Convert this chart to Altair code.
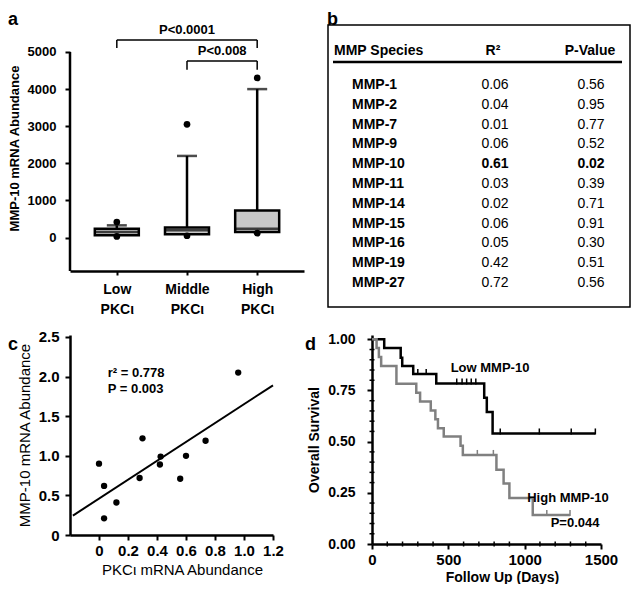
import altair as alt
import pandas as pd

FONT = "Liberation Sans"
GREY = "#808080"
BOX_FILL = "#c8c8c8"

# ---------------- Panel a : box plots ----------------
a_groups = ["Low", "Middle", "High"]
a_q1 = [60, 90, 150]
a_median = [150, 200, 235]
a_q3 = [240, 270, 730]
a_whisker_hi = [330, 2200, 4000]
a_whisker_lo = [30, 50, 120]
a_outlier = [420, 3050, 4300]
a_ticks = [0, 1000, 2000, 3000, 4000, 5000]
a_axis_span = [-900, 5000]
a_bracket_from = ["Low", "Middle"]
a_bracket_to = ["High", "High"]
a_bracket_top = [5320, 4760]
a_bracket_foot = [5110, 4520]
a_bracket_text = ["P<0.0001", "P<0.008"]
a_bracket_text_x = ["Middle", "High"]
a_bracket_text_y = [5590, 5030]

# ---------------- Panel b : table ----------------
b_species = ["MMP-1", "MMP-2", "MMP-7", "MMP-9", "MMP-10", "MMP-11",
             "MMP-14", "MMP-15", "MMP-16", "MMP-19", "MMP-27"]
b_r2 = [0.06, 0.04, 0.01, 0.06, 0.61, 0.03, 0.02, 0.06, 0.05, 0.42, 0.72]
b_pval = [0.56, 0.95, 0.77, 0.52, 0.02, 0.39, 0.71, 0.91, 0.30, 0.51, 0.56]
b_header = ["MMP Species", "R²", "P-Value"]
b_bold = "MMP-10"

# ---------------- Panel c : scatter ----------------
c_pkc = [0.00, 0.035, 0.035, 0.12, 0.28, 0.30, 0.42, 0.425, 0.56, 0.60, 0.735, 0.96]
c_mmp = [0.90, 0.62, 0.21, 0.41, 0.72, 1.22, 0.89, 0.99, 0.71, 1.00, 1.19, 2.05]
c_fit_x = [-0.18, 1.2]
c_fit_y = [0.245, 1.89]
c_xticks = [0, 0.2, 0.4, 0.6, 0.8, 1.0, 1.2]
c_yticks = [0, 0.5, 1.0, 1.5, 2.0, 2.5]

# ---------------- Panel d : Kaplan-Meier ----------------
low_days = [0, 80, 188, 198, 270, 421, 735, 752, 790, 1463]
low_surv = [1.0, 0.957, 0.91, 0.87, 0.83, 0.784, 0.714, 0.645, 0.54, 0.54]
low_censor = [300, 355, 555, 590, 620, 650, 680, 840, 1096, 1305, 1463]
high_days = [0, 30, 45, 60, 160, 290, 315, 385, 415, 432, 470, 580, 595,
             815, 862, 900, 1053, 1297]
high_surv = [1.0, 0.957, 0.913, 0.870, 0.783, 0.739, 0.696, 0.652, 0.609,
             0.565, 0.525, 0.48, 0.435, 0.363, 0.295, 0.225, 0.142, 0.142]
high_censor = [690, 795, 1145, 1297]
d_xticks = [0, 500, 1000, 1500]
d_yticks = [0, 0.25, 0.5, 0.75, 1.0]
d_xminor = [100, 200, 300, 400, 600, 700, 800, 900, 1100, 1200, 1300, 1400]
d_yminor = [0.05, 0.1, 0.15, 0.2, 0.3, 0.35, 0.4, 0.45, 0.55, 0.6, 0.65, 0.7,
            0.8, 0.85, 0.9, 0.95]
d_labels = ["Low MMP-10", "High MMP-10", "P=0.044"]
d_label_x = [773, 1284, 1330]
d_label_y = [0.861, 0.223, 0.102]

panel_letters = ["a", "b", "c", "d"]


def letter(t, x, y, baseline):
    df = pd.DataFrame({"t": [t]})
    return alt.Chart(df).mark_text(font=FONT, fontSize=18, fontWeight="bold",
                                   align="left", baseline=baseline,
                                   color="black").encode(
        x=alt.value(x), y=alt.value(y), text="t:N")


# ======== Panel a ========
a_df = pd.DataFrame({"group": a_groups, "q1": a_q1, "median": a_median, "q3": a_q3,
                     "hi": a_whisker_hi, "lo": a_whisker_lo, "out": a_outlier})
a_xs = alt.Scale(type="point", domain=a_groups, padding=0.667)
a_ys = alt.Scale(domain=[-900, 5727], nice=False, zero=False)
a_xaxis = alt.Axis(title=None, labelExpr="[datum.label, 'PKCι']", labelFontSize=14,
                   labelPadding=7, labelLineHeight=20, tickSize=4, labelAngle=0)
a_yaxis = alt.Axis(title="MMP-10 mRNA Abundance", values=a_ticks, format="d",
                   domain=False, tickSize=5, labelPadding=9, labelFontSize=13,
                   titleFontSize=13, titlePadding=6, labelOverlap=False,
                   labelFlush=False)
ax = alt.X("group:N", scale=a_xs, axis=a_xaxis)
ab = alt.Chart(a_df)
a_whisk = ab.mark_rule(color="black", strokeWidth=2.5).encode(
    x=ax, y=alt.Y("lo:Q", scale=a_ys, axis=a_yaxis), y2="hi:Q")
a_box = ab.mark_bar(size=44, color=BOX_FILL, stroke="black", strokeWidth=2.5).encode(
    x=ax, y=alt.Y("q1:Q", scale=a_ys, axis=a_yaxis), y2="q3:Q")
a_med = ab.mark_tick(orient="horizontal", size=44, thickness=2.5, color="black").encode(
    x=ax, y=alt.Y("median:Q", scale=a_ys, axis=a_yaxis))
a_cap = ab.mark_tick(orient="horizontal", size=20, thickness=2.5, color="black").encode(
    x=ax, y=alt.Y("hi:Q", scale=a_ys, axis=a_yaxis))
a_out = ab.mark_circle(size=45, color="black", opacity=1).encode(
    x=ax, y=alt.Y("out:Q", scale=a_ys, axis=a_yaxis))
a_low = ab.mark_circle(size=45, color="black", opacity=1).encode(
    x=ax, y=alt.Y("lo:Q", scale=a_ys, axis=a_yaxis))
a_axis_df = pd.DataFrame({"lo": [a_axis_span[0]], "hi": [a_axis_span[1]]})
a_axisline = alt.Chart(a_axis_df).mark_rule(color="black", strokeWidth=2.5).encode(
    y=alt.Y("lo:Q", scale=a_ys, axis=a_yaxis), y2="hi:Q", x=alt.value(0))
br_df = pd.DataFrame({"frm": a_bracket_from, "to": a_bracket_to, "top": a_bracket_top,
                      "foot": a_bracket_foot, "txt": a_bracket_text,
                      "tx": a_bracket_text_x, "ty": a_bracket_text_y})
bb = alt.Chart(br_df)
br_h = bb.mark_rule(color="black", strokeWidth=1.5).encode(
    x=alt.X("frm:N", scale=a_xs, axis=a_xaxis), x2="to:N",
    y=alt.Y("top:Q", scale=a_ys, axis=a_yaxis))
br_l = bb.mark_rule(color="black", strokeWidth=1.5).encode(
    x=alt.X("frm:N", scale=a_xs, axis=a_xaxis),
    y=alt.Y("top:Q", scale=a_ys, axis=a_yaxis), y2="foot:Q")
br_r = bb.mark_rule(color="black", strokeWidth=1.5).encode(
    x=alt.X("to:N", scale=a_xs, axis=a_xaxis),
    y=alt.Y("top:Q", scale=a_ys, axis=a_yaxis), y2="foot:Q")
br_t1 = bb.transform_filter(alt.datum.tx == "Middle").mark_text(
    font=FONT, fontSize=13, fontWeight="bold", color="black").encode(
    x=alt.X("tx:N", scale=a_xs, axis=a_xaxis),
    y=alt.Y("ty:Q", scale=a_ys, axis=a_yaxis), text="txt:N")
br_t2 = bb.transform_filter(alt.datum.tx == "High").mark_text(
    font=FONT, fontSize=13, fontWeight="bold", color="black", dx=-35).encode(
    x=alt.X("tx:N", scale=a_xs, axis=a_xaxis),
    y=alt.Y("ty:Q", scale=a_ys, axis=a_yaxis), text="txt:N")
panel_a = alt.layer(a_whisk, a_box, a_med, a_cap, a_out, a_low, a_axisline,
                    br_h, br_l, br_r, br_t1, br_t2,
                    letter(panel_letters[0], -62, -14, "top")).properties(
    width=234, height=246)

# ======== Panel b ========
b_df = pd.DataFrame({"species": b_species, "r2": b_r2, "p": b_pval})
b_y = alt.Y("species:N", sort=b_species, axis=None,
            scale=alt.Scale(type="point", domain=b_species, range=[60, 258], padding=0))
tb = alt.Chart(b_df)
b_sp = tb.mark_text(font=FONT, fontSize=14, fontWeight="bold", align="left",
                    color="black").encode(x=alt.value(-20), y=b_y, text="species:N")
b_r = tb.transform_filter(alt.datum.species != b_bold).mark_text(
    font=FONT, fontSize=14, color="black").encode(
    x=alt.value(123), y=b_y, text=alt.Text("r2:Q", format=".2f"))
b_p = tb.transform_filter(alt.datum.species != b_bold).mark_text(
    font=FONT, fontSize=14, color="black").encode(
    x=alt.value(219), y=b_y, text=alt.Text("p:Q", format=".2f"))
b_rb = tb.transform_filter(alt.datum.species == b_bold).mark_text(
    font=FONT, fontSize=14, fontWeight="bold", color="black").encode(
    x=alt.value(123), y=b_y, text=alt.Text("r2:Q", format=".2f"))
b_pb = tb.transform_filter(alt.datum.species == b_bold).mark_text(
    font=FONT, fontSize=14, fontWeight="bold", color="black").encode(
    x=alt.value(219), y=b_y, text=alt.Text("p:Q", format=".2f"))
hd = pd.DataFrame({"h": b_header})
b_h1 = alt.Chart(hd).transform_filter(alt.datum.h == b_header[0]).mark_text(
    font=FONT, fontSize=14, fontWeight="bold", align="left", color="black").encode(
    x=alt.value(-38), y=alt.value(26), text="h:N")
b_h2 = alt.Chart(hd).transform_filter(alt.datum.h == b_header[1]).mark_text(
    font=FONT, fontSize=14, fontWeight="bold", color="black").encode(
    x=alt.value(121), y=alt.value(26), text="h:N")
b_h3 = alt.Chart(hd).transform_filter(alt.datum.h == b_header[2]).mark_text(
    font=FONT, fontSize=14, fontWeight="bold", color="black").encode(
    x=alt.value(218), y=alt.value(26), text="h:N")
b_line = alt.Chart(hd).transform_filter(alt.datum.h == b_header[0]).mark_rule(
    color="black", strokeWidth=2.5).encode(
    x=alt.value(-39), x2=alt.value(250), y=alt.value(37))
b_frame = alt.Chart(hd).transform_filter(alt.datum.h == b_header[0]).mark_rect(
    fillOpacity=0, stroke="black", strokeWidth=1.5).encode(
    x=alt.value(-44), x2=alt.value(258), y=alt.value(0), y2=alt.value(282))
panel_b = alt.layer(b_frame, b_sp, b_r, b_p, b_rb, b_pb, b_h1, b_h2, b_h3,
                    b_line, letter(panel_letters[1], -45, -14, "top")).properties(
    width=258, height=282)

# ======== Panel c ========
c_df = pd.DataFrame({"x": c_pkc, "y": c_mmp})
c_xs = alt.Scale(domain=[-0.2, 1.2], nice=False, zero=False)
c_ys = alt.Scale(domain=[0, 2.525], nice=False, zero=False)
num_expr = "datum.value == 0 ? '0' : format(datum.value, '.1f')"
c_xaxis = alt.Axis(title="PKCι mRNA Abundance", values=c_xticks,
                   labelExpr=num_expr, labelFontSize=15, labelFontWeight="bold",
                   tickSize=5, labelPadding=3, titleFontSize=15, labelOverlap=False,
                   labelFlush=False, titleFontWeight="normal", titleX=112,
                   titlePadding=4)
c_yaxis = alt.Axis(title="MMP-10 mRNA Abundance", values=c_yticks, labelExpr=num_expr,
                   labelFontSize=15, labelFontWeight="bold", tickSize=5,
                   labelOverlap=False, labelFlush=False, labelPadding=6,
                   titleFontSize=15, titleFontWeight="normal", titlePadding=6)
cb = alt.Chart(c_df)
c_pts = cb.mark_circle(size=40, color="black", opacity=1).encode(
    x=alt.X("x:Q", scale=c_xs, axis=c_xaxis), y=alt.Y("y:Q", scale=c_ys, axis=c_yaxis))
fit_df = pd.DataFrame({"x": c_fit_x, "y": c_fit_y})
c_fit = alt.Chart(fit_df).mark_line(color="black", strokeWidth=2).encode(
    x=alt.X("x:Q", scale=c_xs, axis=c_xaxis), y=alt.Y("y:Q", scale=c_ys, axis=c_yaxis))
c_txt_df = pd.DataFrame({"t": ["r² = 0.778", "P = 0.003"], "x": [0.06, 0.06],
                         "y": [2.04, 1.845]})
c_txt = alt.Chart(c_txt_df).mark_text(font=FONT, fontSize=13, fontWeight="bold",
                                      align="left", color="black").encode(
    x=alt.X("x:Q", scale=c_xs, axis=c_xaxis), y=alt.Y("y:Q", scale=c_ys, axis=c_yaxis),
    text="t:N")
panel_c = alt.layer(c_fit, c_pts, c_txt,
                    letter(panel_letters[2], -62, 15, "alphabetic")).properties(
    width=203, height=200)


# ======== Panel d ========
def level(days, surv, t):
    v = surv[0]
    for dd, ss in zip(days, surv):
        if dd <= t:
            v = ss
    return v


km = pd.DataFrame({
    "day": low_days + high_days,
    "surv": low_surv + high_surv,
    "grp": ["Low"] * len(low_days) + ["High"] * len(high_days)})
cens = pd.DataFrame({
    "day": low_censor + high_censor,
    "surv": [level(low_days, low_surv, t) for t in low_censor]
    + [level(high_days, high_surv, t) for t in high_censor],
    "grp": ["Low"] * len(low_censor) + ["High"] * len(high_censor)})
d_xs = alt.Scale(domain=[0, 1500], nice=False, zero=False)
d_ys = alt.Scale(domain=[0, 1.021], nice=False, zero=False)
d_xaxis = alt.Axis(title="Follow Up (Days)", values=d_xticks, format="d",
                   labelFontSize=15, tickSize=5, labelPadding=3, titleFontSize=14,
                   titleX=130, titlePadding=3, labelOverlap=False, labelFlush=False)
d_yaxis = alt.Axis(title="Overall Survival", values=d_yticks, format=".2f",
                   labelFontSize=14, tickSize=5, labelPadding=12, titleFontSize=14,
                   titlePadding=6, labelOverlap=False, labelFlush=False)
d_col = alt.Color("grp:N", scale=alt.Scale(domain=["Low", "High"],
                                          range=["black", GREY]), legend=None)
d_lines = alt.Chart(km).mark_line(interpolate="step-after", strokeWidth=2.5).encode(
    x=alt.X("day:Q", scale=d_xs, axis=d_xaxis), y=alt.Y("surv:Q", scale=d_ys, axis=d_yaxis),
    color=d_col, detail="grp:N")
d_cens = alt.Chart(cens).mark_tick(orient="vertical", size=6, thickness=1.5,
                                   yOffset=-2, opacity=1).encode(
    x=alt.X("day:Q", scale=d_xs, axis=d_xaxis), y=alt.Y("surv:Q", scale=d_ys, axis=d_yaxis),
    color=d_col)
xm = pd.DataFrame({"day": d_xminor})
d_xm = alt.Chart(xm).mark_tick(orient="vertical", size=5, thickness=1.5,
                               color="black", opacity=1).encode(
    x=alt.X("day:Q", scale=d_xs, axis=d_xaxis), y=alt.datum(0))
ym = pd.DataFrame({"v": d_yminor})
d_ym = alt.Chart(ym).mark_tick(orient="horizontal", size=5, thickness=1.5,
                               color="black", opacity=1).encode(
    y=alt.Y("v:Q", scale=d_ys, axis=d_yaxis), x=alt.datum(0))
dl = pd.DataFrame({"t": d_labels, "x": d_label_x, "y": d_label_y})
d_txt = alt.Chart(dl).mark_text(font=FONT, fontSize=13, fontWeight="bold",
                                color="black").encode(
    x=alt.X("x:Q", scale=d_xs, axis=d_xaxis), y=alt.Y("y:Q", scale=d_ys, axis=d_yaxis),
    text="t:N")
panel_d = alt.layer(d_lines, d_cens, d_xm, d_ym, d_txt,
                    letter(panel_letters[3], -67, 15, "alphabetic")).properties(
    width=229, height=209)

chart = alt.concat(panel_a, panel_b, panel_c, panel_d, columns=2,
                   spacing=alt.RowColnumber(row=28, column=68),
                   bounds="flush").properties(
    padding={"left": 0, "top": 3, "right": 0, "bottom": 0}
).configure_view(stroke=None).configure_axis(
    labelFont=FONT, titleFont=FONT, labelColor="black", titleColor="black",
    domainColor="black", tickColor="black", grid=False, domainWidth=2.5,
    tickWidth=2, labelFontWeight="bold", titleFontWeight="bold"
)

chart.save("out.html", embed_options={"renderer": "svg", "actions": False})
